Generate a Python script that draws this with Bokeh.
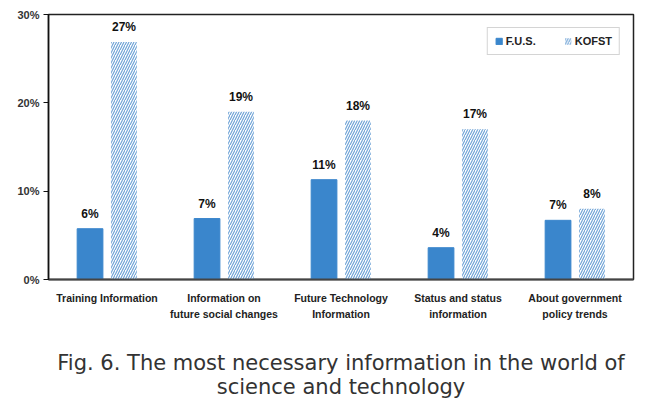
from bokeh.plotting import figure
from bokeh.layouts import column
from bokeh.models import ColumnDataSource, FactorRange, FixedTicker, Legend, LegendItem, CustomJSTickFormatter
from bokeh.core.properties import value
from bokeh.transform import dodge
from bokeh.embed import file_html
from bokeh.resources import INLINE

categories = ["Training Information", "Information on\nfuture social changes", "Future Technology\nInformation",
              "Status and status\ninformation", "About government\npolicy trends"]
fus = [5.75, 6.9, 11.3, 3.6, 6.7]
kofst = [26.9, 19.0, 18.0, 17.0, 8.0]
fus_labels = ["6%", "7%", "11%", "4%", "7%"]
kofst_labels = ["27%", "19%", "18%", "17%", "8%"]
y_ticks = [0, 10, 20, 30]
caption_lines = ["Fig. 6. The most necessary information in the world of", "science and technology"]

src = ColumnDataSource(dict(cat=categories, fus=fus, kofst=kofst, fl=fus_labels, kl=kofst_labels))

LBL_FONT = "Liberation Sans"
BLUE = "#3a86cc"
HATCH = "#6fa3d6"

p = figure(x_range=FactorRange(*categories), y_range=(0, 30), width=645, height=335,
           output_backend="svg", toolbar_location=None,
           min_border_left=48, min_border_right=12, min_border_top=14, min_border_bottom=56)

r1 = p.vbar(x=dodge("cat", -0.145, range=p.x_range), top="fus", width=0.22, source=src,
            fill_color=BLUE, line_color=BLUE)
r2 = p.vbar(x=dodge("cat", 0.145, range=p.x_range), top="kofst", width=0.22, source=src,
            fill_color="white", fill_alpha=1, line_color=None,
            hatch_pattern="right_diagonal_line", hatch_color=HATCH, hatch_scale=5, hatch_weight=1.2)

p.text(x=dodge("cat", -0.145, range=p.x_range), y="fus", text="fl", source=src,
       text_align="center", text_baseline="bottom", y_offset=-8,
       text_font=value(LBL_FONT), text_font_style="bold", text_font_size="12px", text_color="#111")
p.text(x=dodge("cat", 0.145, range=p.x_range), y="kofst", text="kl", source=src,
       text_align="center", text_baseline="bottom", y_offset=-8,
       text_font=value(LBL_FONT), text_font_style="bold", text_font_size="12px", text_color="#111")

p.xgrid.visible = False
p.ygrid.visible = False
p.outline_line_color = "#222"
p.outline_line_width = 1.5

p.yaxis.ticker = FixedTicker(ticks=y_ticks)
p.yaxis.formatter = CustomJSTickFormatter(code="return tick + '%';")
p.yaxis.major_tick_in = 0
p.yaxis.major_tick_out = 5
p.yaxis.minor_tick_line_color = None
p.yaxis.axis_line_color = "#111"
p.yaxis.axis_line_width = 1.5
p.yaxis.major_tick_line_color = "#111"
p.yaxis.major_label_text_font = LBL_FONT
p.yaxis.major_label_text_font_style = "bold"
p.yaxis.major_label_text_font_size = "11px"
p.yaxis.major_label_text_color = "#333"
p.yaxis.major_label_standoff = 4

p.xaxis.major_tick_line_color = None
p.xaxis.minor_tick_line_color = None
p.xaxis.axis_line_color = "#444"
p.xaxis.axis_line_width = 2
p.xaxis.major_label_text_font = LBL_FONT
p.xaxis.major_label_text_font_style = "bold"
p.xaxis.major_label_text_font_size = "10.5px"
p.xaxis.major_label_text_line_height = 1.36
p.xaxis.major_label_text_color = "#222"
p.xaxis.major_label_standoff = 6

legend = Legend(items=[LegendItem(label="F.U.S.", renderers=[r1]), LegendItem(label="KOFST", renderers=[r2])],
                location="top_right", orientation="horizontal", margin=13,
                glyph_width=8, glyph_height=8, label_standoff=3, spacing=28, padding=7,
                label_text_font=LBL_FONT, label_text_font_style="bold", label_text_font_size="11px",
                label_text_color="#222", border_line_color="#aaa", label_height=10)
p.add_layout(legend)

# caption panel
cap = figure(width=645, height=66, x_range=(0, 1), y_range=(0, 66), output_backend="svg",
             toolbar_location=None, x_axis_location=None, y_axis_location=None,
             min_border=0, outline_line_color=None)
cap.xgrid.visible = False
cap.ygrid.visible = False
cap_src = ColumnDataSource(dict(x=[0.5, 0.5], y=[39, 15], t=caption_lines))
cap.text(x="x", y="y", text="t", source=cap_src, text_align="center", text_baseline="middle",
         text_font=value("DejaVu Sans"), text_font_size="21px", text_color="#333")

open("out.html", "w").write(file_html(column(p, cap, spacing=0), INLINE))
